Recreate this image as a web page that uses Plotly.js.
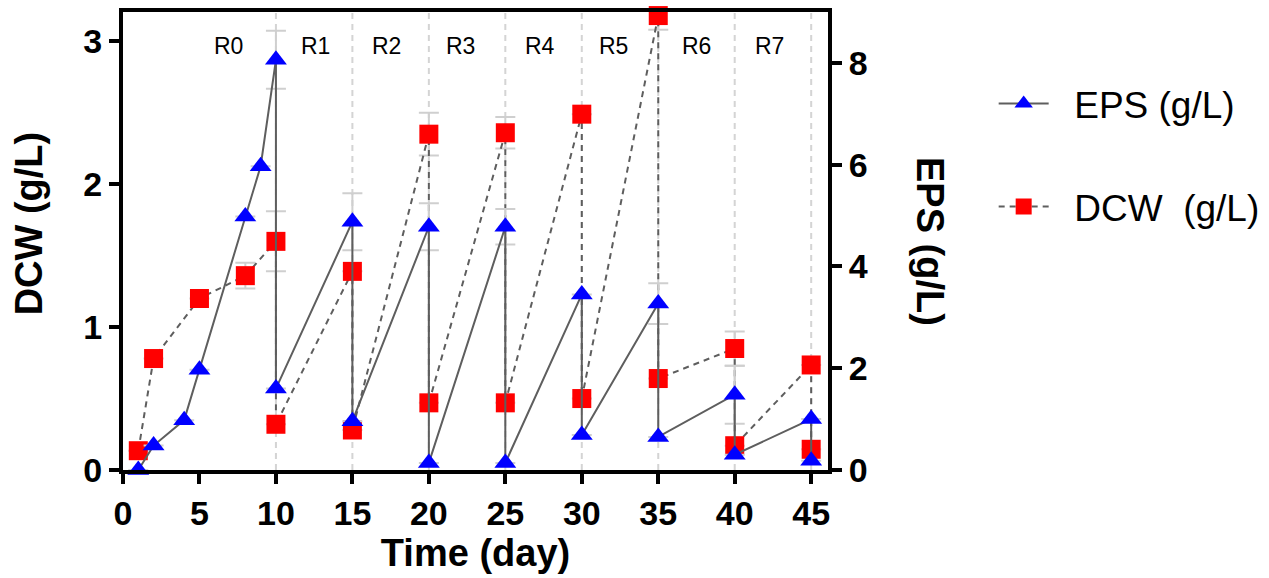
<!DOCTYPE html>
<html><head><meta charset="utf-8">
<script src="https://cdn.plot.ly/plotly-3.0.1.min.js"></script>
<style>html,body{margin:0;padding:0;background:#fff}</style>
</head><body><div id="chart" style="width:1269px;height:578px"></div>
<script>
// ---- data ----
const epsDays   = [1, 2, 4, 5, 8, 9, 10, 10, 15, 15, 20, 20, 25, 25, 30, 30, 35, 35, 40, 40, 45, 45];
const epsValues = [0, 0.48, 0.98, 1.97, 4.98, 5.97, 8.06, 1.6, 4.88, 0.96, 4.78, 0.14, 4.78, 0.14, 3.45, 0.69, 3.27, 0.65, 1.48, 0.3, 1.0, 0.18];
const epsError  = [null, null, null, null, null, null, 0.57, null, 0.56, null, 0.46, null, 0.35, null, null, null, 0.4, null, 0.57, null, null, null];
const dcwDays   = [1, 2, 5, 8, 10, 10, 15, 15, 20, 20, 25, 25, 30, 30, 35, 35, 40, 40, 45, 45];
const dcwValues = [0.135, 0.78, 1.2, 1.36, 1.6, 0.32, 1.39, 0.28, 2.35, 0.47, 2.36, 0.47, 2.49, 0.5, 3.18, 0.64, 0.85, 0.17, 0.735, 0.145];
const dcwError  = [null, null, null, 0.09, 0.21, null, null, null, 0.15, null, 0.11, null, null, null, 0.1, null, 0.12, null, null, null];
const cycleBoundaries = [10, 15, 20, 25, 30, 35, 40, 45];
const cycleLabels = ['R0', 'R1', 'R2', 'R3', 'R4', 'R5', 'R6', 'R7'];
const xTickVals = [0, 5, 10, 15, 20, 25, 30, 35, 40, 45];
const dcwTickVals = [0, 1, 2, 3];
const epsTickVals = [0, 2, 4, 6, 8];
const seriesNames = ['EPS (g/L)', 'DCW  (g/L)'];

// ---- layout helpers ----
const labelDayPos = [6.9, 12.6, 17.25, 22.05, 27.3, 32.1, 37.5, 42.3];
const tickFont = {family: "'Liberation Sans', Arial, sans-serif", size: 34, color: '#000', weight: 'bold'};
const titleFont = {family: "'Liberation Sans', Arial, sans-serif", size: 38, color: '#000', weight: 'bold'};
const lineGray = '#5e5e5e';
const errGray = '#cfcfcf';
const pad = '\u00A0\u00A0';

const traces = [
  {
    x: epsDays, y: epsValues, yaxis: 'y2', name: pad + seriesNames[0], type: 'scatter', mode: 'lines+markers',
    legendgroup: 'eps', cliponaxis: false,
    line: {color: lineGray, width: 2},
    marker: {symbol: 'triangle-up', size: 19, color: '#0000ff', line: {width: 0}},
    error_y: {type: 'data', array: epsError, visible: true, color: errGray, thickness: 2, width: 10}
  },
  {
    x: dcwDays, y: dcwValues, yaxis: 'y', name: pad + seriesNames[1], type: 'scatter', mode: 'lines+markers',
    legendgroup: 'dcw', cliponaxis: false,
    line: {color: lineGray, width: 2, dash: '6px,5px'},
    marker: {symbol: 'square', size: 19, color: '#ff0000', line: {width: 0}},
    error_y: {type: 'data', array: dcwError, visible: true, color: errGray, thickness: 2, width: 10}
  }
];

const shapes = cycleBoundaries.map(d => ({
  type: 'line', xref: 'x', yref: 'paper', x0: d, x1: d, y0: 0, y1: 1, layer: 'below',
  line: {color: '#d4d4d4', width: 2, dash: '6px,5px'}
}));

const annotations = cycleLabels.map((t, i) => ({
  text: t, xref: 'x', yref: 'paper', x: labelDayPos[i], y: 0.926, showarrow: false,
  xanchor: 'center', yanchor: 'middle',
  font: {family: "'Liberation Sans', Arial, sans-serif", size: 23, color: '#000'}
}));
annotations.push({
  text: 'EPS (g/L)', xref: 'paper', yref: 'paper', x: 1.1447, y: 0.5, showarrow: false,
  textangle: 90, xanchor: 'center', yanchor: 'middle', font: titleFont
});
annotations.push({
  text: 'DCW (g/L)', xref: 'paper', yref: 'paper', x: -0.133, y: 0.539, showarrow: false,
  textangle: -90, xanchor: 'center', yanchor: 'middle', font: titleFont
});

const layout = {
  width: 1269, height: 578,
  margin: {l: 123, r: 441, t: 12, b: 108, pad: 0, autoexpand: false},
  paper_bgcolor: '#fff', plot_bgcolor: '#fff',
  showlegend: true,
  legend: {
    x: 1.235, y: 0.867, xanchor: 'left', yanchor: 'top',
    font: {family: "'Liberation Sans', Arial, sans-serif", size: 37, color: '#000'},
    itemwidth: 50, tracegroupgap: 52, traceorder: 'grouped', bgcolor: 'rgba(0,0,0,0)'
  },
  xaxis: {
    range: [0, 46.1], tickmode: 'array', tickvals: xTickVals,
    showline: true, linewidth: 4, linecolor: '#000', mirror: true,
    ticks: 'outside', ticklen: 10, tickwidth: 4, tickcolor: '#000',
    showgrid: false, zeroline: false, tickfont: tickFont,
    title: {text: 'Time (day)', font: titleFont, standoff: 8}
  },
  yaxis: {
    range: [0, 3.205], tickmode: 'array', tickvals: dcwTickVals,
    showline: true, linewidth: 4, linecolor: '#000',
    ticks: 'outside', ticklen: 10, tickwidth: 4, tickcolor: '#000',
    showgrid: false, zeroline: false, tickfont: tickFont
  },
  yaxis2: {
    range: [0, 9.0], tickmode: 'array', tickvals: epsTickVals, overlaying: 'y', side: 'right',
    showline: true, linewidth: 4, linecolor: '#000',
    ticks: 'outside', ticklen: 10, tickwidth: 4, tickcolor: '#000',
    showgrid: false, zeroline: false, tickfont: tickFont
  },
  shapes: shapes,
  annotations: annotations
};

Plotly.newPlot('chart', traces, layout, {displayModeBar: false, staticPlot: true});
</script>
</body></html>
